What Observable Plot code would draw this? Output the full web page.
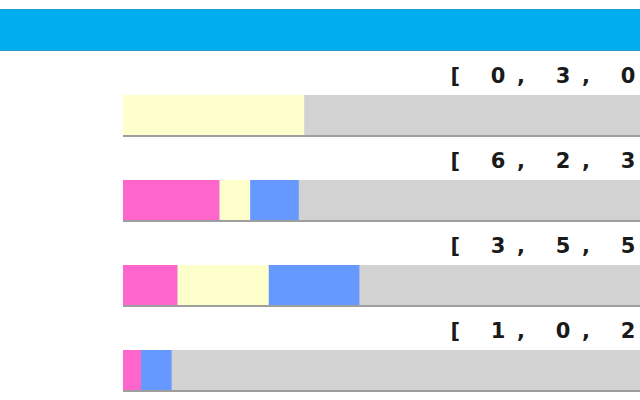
<!DOCTYPE html>
<html>
<head>
<meta charset="utf-8">
<script src="https://cdn.jsdelivr.net/npm/d3@7"></script>
<script src="https://cdn.jsdelivr.net/npm/@observablehq/plot@0.6"></script>
<style>
  html, body { margin: 0; padding: 0; background: #fff; width: 640px; height: 400px; overflow: hidden; }
  #header { margin-top: 9px; height: 42px; width: 640px; background: #00AEEF;
            border-top: 1px solid #1A9AD0; border-bottom: 1px solid #1A9AD0; box-sizing: border-box; }
  #chart svg { display: block; max-width: none !important; }
  #chart g[aria-label="text"] text { white-space: pre; letter-spacing: 11.7px; }
</style>
</head>
<body>
<div id="header"></div>
<div id="chart"></div>
<script>
// Rows (categories) and their label texts
const rows = ["row1", "row2", "row3", "row4"];
const rowLabels = ["[ 0, 3, 0,", "[ 6, 2, 3,", "[ 3, 5, 5,", "[ 1, 0, 2,"];

// Series (share of the full bar, %)
const series = ["Party A", "Party B", "Party C"];
const seriesColors = ["#FF66CC", "#FFFFCC", "#6699FF"];
const partyA = [0, 16.1, 9.1, 3.0];
const partyB = [30.2, 5.1, 15.2, 0];
const partyC = [0, 8.1, 15.1, 5.1];
const fullBar = [100, 100, 100, 100];

const seriesValues = [partyA, partyB, partyC];
const tidy = [];
rows.forEach((r, i) => {
  series.forEach((s, j) => tidy.push({row: r, series: s, value: seriesValues[j][i]}));
});
const backgrounds = rows.map((r, i) => ({row: r, total: fullBar[i]}));
const labelData = rows.map((r, i) => ({row: r, label: rowLabels[i]}));

const chart = Plot.plot({
  width: 800,
  height: 349,
  marginLeft: 123,
  marginRight: 77,
  marginTop: 44,
  marginBottom: 10,
  x: {domain: [0, 100], axis: null},
  y: {domain: rows, axis: null, paddingInner: 45 / 85, paddingOuter: 0},
  color: {type: "ordinal", domain: series, range: seriesColors},
  style: {background: "transparent", maxWidth: "none"},
  marks: [
    Plot.barX(backgrounds, {x1: 0, x2: "total", y: "row", fill: "#9E9E9E", dy: 2}),
    Plot.barX(backgrounds, {x1: 0, x2: "total", y: "row", fill: "#D2D2D2"}),
    Plot.barX(tidy, Plot.stackX({x: "value", y: "row", fill: "series", order: null})),
    Plot.text(labelData, {
      y: "row", text: "label", frameAnchor: "left", textAnchor: "start",
      dx: 327, dy: -39, fontSize: 21, fontWeight: "bold",
      fontFamily: "'DejaVu Sans', Verdana, sans-serif", fill: "#1a1a1a"
    })
  ]
});
document.getElementById("chart").appendChild(chart);
</script>
</body>
</html>
